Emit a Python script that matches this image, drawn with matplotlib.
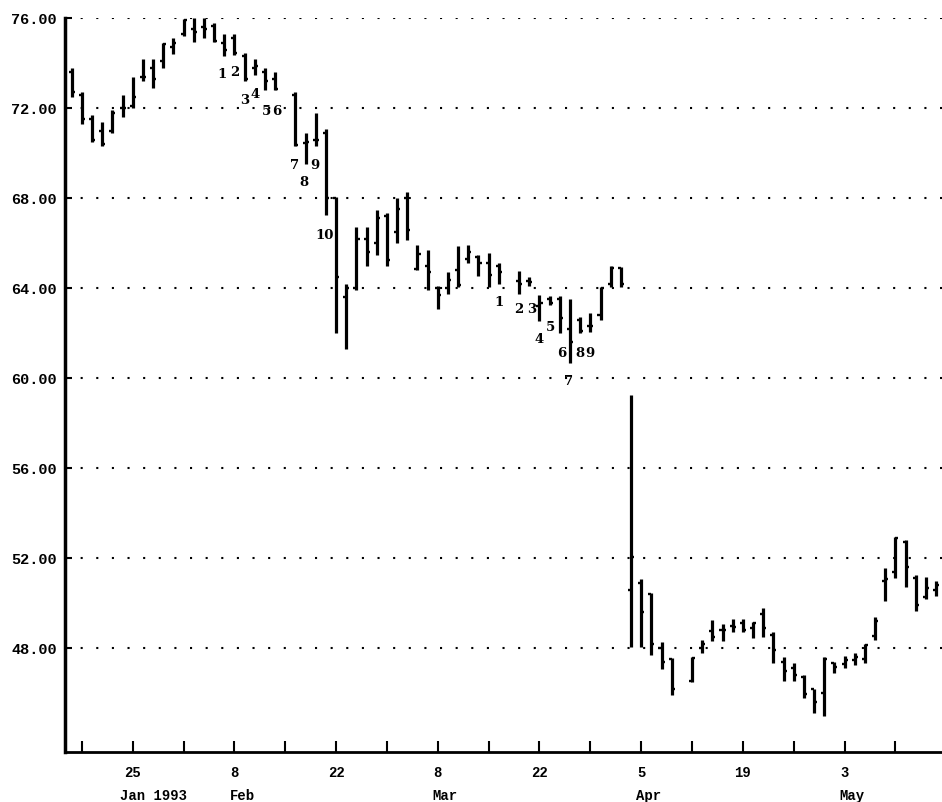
import numpy as np
import pandas as pd
import matplotlib
matplotlib.use("Agg")
import matplotlib.pyplot as plt
from matplotlib.transforms import blended_transform_factory
from matplotlib.transforms import offset_copy

# ---------------- data ----------------
first_day = "1993-01-15"
last_day = "1993-05-14"
missing_days = ["1993-02-15", "1993-03-17", "1993-04-09"]

opens = [73.6, 72.6, 71.5, 71.0, 71.0, 72.0, 72.1, 73.4, 73.8, 74.1, 74.7, 75.3, 75.5, 75.6, 75.65,
         74.9, 75.1, 74.3, 73.8, 73.6, 73.3,
         72.6, 70.45, 70.6, 70.9, 68.0, 63.6, 64.0, 66.2, 66.0, 67.2, 66.5, 68.0, 64.85, 65.0,
         64.0, 64.0, 64.8, 65.3, 65.4, 65.1, 65.0,
         64.3, 64.3, 63.2, 63.5, 63.5, 62.2, 62.6, 62.3, 62.8, 64.2, 64.9, 50.6, 50.9, 50.4, 48.0, 47.5,
         46.55, 48.0, 48.75, 48.8, 49.0, 49.1, 48.9, 49.5, 48.6, 47.4, 47.1, 46.7, 46.2, 46.0,
         47.35, 47.3, 47.45, 47.5, 48.55, 51.0, 51.4, 52.7, 51.1, 50.25, 50.6]
highs = [73.8, 72.7, 71.7, 71.4, 71.9, 72.6, 73.4, 74.2, 74.2, 74.9, 75.1, 75.95, 76.0, 76.0, 75.8,
         75.3, 75.3, 74.45, 74.2, 73.8, 73.6,
         72.7, 70.9, 71.8, 71.05, 68.05, 64.2, 66.7, 66.7, 67.45, 67.35, 68.0, 68.25, 65.9, 65.7,
         64.1, 64.7, 65.85, 65.9, 65.45, 65.55, 65.1,
         64.75, 64.5, 63.7, 63.65, 63.65, 63.5, 62.7, 62.9, 64.05, 65.0, 64.95, 59.25, 51.05, 50.45, 48.25, 47.55,
         47.6, 48.35, 49.25, 49.05, 49.3, 49.3, 49.15, 49.8, 48.7, 47.6, 47.35, 46.8, 46.2, 47.6,
         47.4, 47.65, 47.8, 48.2, 49.4, 51.55, 52.95, 52.8, 51.25, 51.15, 51.0]
lows = [72.5, 71.3, 70.5, 70.3, 70.9, 71.6, 72.0, 73.2, 72.9, 73.8, 74.4, 75.2, 74.95, 75.1, 74.95,
        74.3, 74.35, 73.2, 73.45, 72.8, 72.8,
        70.3, 69.5, 70.3, 67.25, 62.0, 61.3, 63.9, 65.0, 65.45, 65.0, 66.0, 66.15, 64.8, 63.9,
        63.05, 63.75, 64.05, 65.1, 64.55, 64.05, 64.2,
        63.75, 64.1, 62.55, 63.25, 62.0, 60.65, 62.0, 62.05, 62.6, 64.05, 64.05, 48.05, 48.05, 47.7, 47.05, 45.9,
        46.5, 47.8, 48.3, 48.3, 48.7, 48.7, 48.45, 48.5, 47.35, 46.55, 46.55, 45.8, 45.1, 45.0,
        46.9, 47.1, 47.25, 47.35, 48.35, 50.1, 51.1, 50.7, 49.65, 50.2, 50.3]
closes = [72.7, 71.5, 70.6, 70.4, 71.8, 72.0, 72.5, 73.4, 73.3, 74.85, 74.9, 75.9, 75.4, 75.5, 75.0,
          74.6, 74.45, 73.3, 73.85, 73.2, 72.85,
          70.35, 70.5, 70.6, 68.0, 64.5, 64.0, 66.2, 65.6, 67.1, 65.25, 67.5, 66.6, 65.5, 64.7,
          63.7, 64.35, 64.15, 65.6, 65.1, 64.6, 64.7,
          64.2, 64.25, 63.35, 63.35, 62.65, 61.6, 62.1, 62.3, 64.0, 64.9, 64.2, 52.05, 49.6, 48.2, 47.4, 46.2,
          47.55, 48.2, 48.5, 48.8, 48.95, 48.8, 49.1, 48.9, 47.9, 47.0, 46.8, 45.95, 45.6, 47.5,
          47.15, 47.45, 47.6, 48.15, 49.2, 51.05, 52.9, 51.6, 49.9, 50.65, 50.8]

y_ticks = [48, 52, 56, 60, 64, 68, 72, 76]
day_label_dates = ["1993-01-25", "1993-02-08", "1993-02-22", "1993-03-08",
                   "1993-03-22", "1993-04-05", "1993-04-19", "1993-05-03"]
day_labels = ["25", "8", "22", "8", "22", "5", "19", "3"]
month_label_dates = ["1993-01-25", "1993-02-08", "1993-03-08", "1993-04-05", "1993-05-03"]
month_labels = ["Jan 1993", "Feb", "Mar", "Apr", "May"]

# wave-count annotations: (trading date, price level, text)
wave_dates = ["1993-02-05", "1993-02-08", "1993-02-09", "1993-02-10", "1993-02-11", "1993-02-12",
              "1993-02-16", "1993-02-17", "1993-02-18", "1993-02-19",
              "1993-03-16", "1993-03-18", "1993-03-19", "1993-03-22", "1993-03-23",
              "1993-03-24", "1993-03-25", "1993-03-26", "1993-03-29"]
wave_levels = [73.47, 73.6, 72.35, 72.6, 71.85, 71.85,
               69.45, 68.7, 69.45, 66.35,
               63.35, 63.05, 63.05, 61.72, 62.25, 61.07, 59.84, 61.07, 61.07]
wave_texts = ["1", "2", "3", "4", "5", "6", "7", "8", "9", "10",
              "1", "2", "3", "4", "5", "6", "7", "8", "9"]
wave_offsets = [-0.25, 0.0, 0.0, 0.0, 0.2, 0.2, -0.1, -0.2, -0.1, -0.1,
                0.0, 0.0, 0.2, 0.0, 0.1, 0.2, -0.1, 0.0, 0.0]

# ---------------- positions on a business-day axis ----------------
all_bdays = pd.bdate_range(first_day, last_day)
trade_days = all_bdays[~all_bdays.isin(pd.to_datetime(missing_days))]
x = all_bdays.get_indexer(trade_days).astype(float)

def pos(d):
    return float(all_bdays.get_indexer(pd.to_datetime([d]))[0])

mondays = [i for i, d in enumerate(all_bdays) if d.weekday() == 0]

# ---------------- figure ----------------
fig = plt.figure(figsize=(9.42, 8.02), dpi=100)
ax = fig.add_axes([65 / 942, 50 / 802, 877 / 942, 734 / 802])

ax.set_xlim(-0.66, 85.58)
ax.set_ylim(43.38, 76.0)

o = np.array(opens); h = np.array(highs); l = np.array(lows); c = np.array(closes)
tk = 0.3
ax.vlines(x, l, h, color="black", lw=2.3, clip_on=False, zorder=3)
ax.hlines(o, x - tk, x, color="black", lw=1.7, clip_on=False, zorder=3)
ax.hlines(c, x, x + tk, color="black", lw=1.7, clip_on=False, zorder=3)

# grid
ax.set_yticks(y_ticks)
ax.set_yticklabels([f"{v:.2f}" for v in y_ticks], family="Liberation Mono",
                   fontweight="bold", fontsize=11)
ax.yaxis.grid(True, linestyle=(0, (1, 6.5)), lw=1.5, color="black")
ax.set_axisbelow(True)
ax.tick_params(axis="y", direction="in", length=5, width=1.5, pad=6)

# x ticks
ax.set_xticks(mondays)
lab_map = {pos(d): t for d, t in zip(day_label_dates, day_labels)}
ax.set_xticklabels([lab_map.get(float(m), "") for m in mondays], family="Liberation Mono",
                   fontweight="bold", fontsize=10)
ax.tick_params(axis="x", direction="in", length=8, width=1.5, pad=10)

trans = blended_transform_factory(ax.transData, fig.transFigure)
for d, t, dl in zip(month_label_dates, month_labels, ["25", "8", "8", "5", "3"]):
    shift = -13 if len(dl) == 2 else -5
    tr = offset_copy(trans, fig=fig, x=shift, y=0, units="dots")
    ax.text(pos(d), 6 / 802, t, transform=tr, ha="left", va="center",
            family="Liberation Mono", fontweight="bold", fontsize=10)

for d, v, t, dx in zip(wave_dates, wave_levels, wave_texts, wave_offsets):
    ax.text(pos(d) + dx, v, t, ha="center", va="center", family="DejaVu Serif",
            fontweight="bold", fontsize=9.5, zorder=4)

for s in ["top", "right"]:
    ax.spines[s].set_visible(False)
ax.spines["left"].set_linewidth(2.5)
ax.spines["bottom"].set_linewidth(2.0)

fig.savefig("out.png", dpi=100)
